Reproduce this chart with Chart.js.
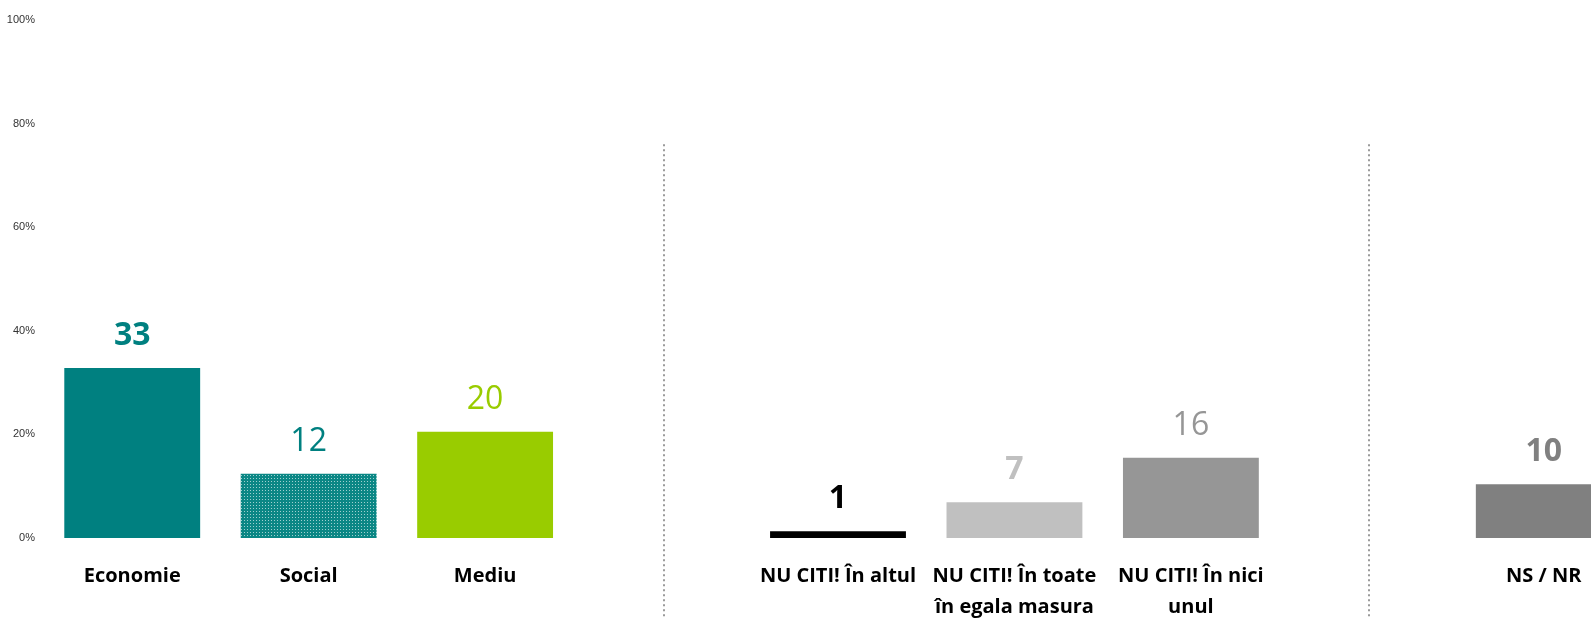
<!DOCTYPE html>
<html>
<head>
<meta charset="utf-8">
<script src="https://cdn.jsdelivr.net/npm/chart.js@4.4.0/dist/chart.umd.min.js"></script>
<style>
    html, body { margin: 0; padding: 0; background: #fff; overflow: hidden; }
    #wrap { width: 1632px; height: 618px; position: relative; }
</style>
</head>
<body>
<div id="wrap"><canvas id="chart"></canvas></div>
<script>
// categories (empty slots separate the three groups)
const categories = [
    'Economie', 'Social', 'Mediu', '',
    'NU CITI! În altul', ['NU CITI! În toate', 'în egala masura'], ['NU CITI! În nici', 'unul'], '',
    'NS / NR'
];
// bar heights (%), shown labels are rounded
const values = [32.8, 12.4, 20.5, null, 1.3, 6.9, 15.5, null, 10.4];
const shownLabels = ['33', '12', '20', '', '1', '7', '16', '', '10'];
const yTicks = [0, 20, 40, 60, 80, 100];
const separatorSlots = [3, 7];

// styles
const barColors = ['#008080', null, '#99cc00', null, '#000000', '#c0c0c0', '#969696', null, '#808080'];
const labelColors = ['#008080', '#008080', '#99cc00', null, '#000000', '#c0c0c0', '#969696', null, '#808080'];
const labelBold = [true, false, false, false, true, true, false, false, true];
const FONT = '"Open Sans", Lato, sans-serif';

function dotPattern() {
    const c = document.createElement('canvas');
    c.width = 3; c.height = 3;
    const g = c.getContext('2d');
    g.fillStyle = '#0b8785';
    g.fillRect(0, 0, 3, 3);
    g.fillStyle = '#9fd0cf';
    g.fillRect(1, 1, 1, 1);
    const ctx = document.createElement('canvas').getContext('2d');
    return ctx.createPattern(c, 'repeat');
}
barColors[1] = dotPattern();

const valueLabels = {
    id: 'valueLabels',
    afterDatasetsDraw(chart) {
        const ctx = chart.ctx;
        const meta = chart.getDatasetMeta(0);
        ctx.save();
        ctx.textAlign = 'center';
        ctx.textBaseline = 'middle';
        meta.data.forEach((bar, i) => {
            if (values[i] == null) return;
            ctx.font = (labelBold[i] ? 'bold ' : '') + '32px ' + FONT;
            ctx.fillStyle = labelColors[i];
            ctx.fillText(shownLabels[i], bar.x, bar.y - 32);
        });
        ctx.restore();
    }
};

const separators = {
    id: 'separators',
    beforeDatasetsDraw(chart) {
        const ctx = chart.ctx;
        const x = chart.scales.x, y = chart.scales.y;
        ctx.save();
        ctx.strokeStyle = '#9a9a9a';
        ctx.lineWidth = 2;
        ctx.setLineDash([2, 3]);
        separatorSlots.forEach(s => {
            const px = Math.round(x.getPixelForValue(s)) + 2;
            ctx.beginPath();
            ctx.moveTo(px, y.getPixelForValue(76));
            ctx.lineTo(px, chart.height);
            ctx.stroke();
        });
        ctx.restore();
    }
};

new Chart(document.getElementById('chart').getContext('2d'), {
    type: 'bar',
    data: {
        labels: categories,
        datasets: [{
            data: values,
            backgroundColor: barColors,
            borderWidth: 0,
            categoryPercentage: 1,
            barPercentage: 0.77
        }]
    },
    options: {
        responsive: true,
        maintainAspectRatio: false,
        animation: false,
        layout: { padding: { top: 20, left: 0, right: 0, bottom: 0 } },
        plugins: { legend: { display: false }, tooltip: { enabled: false } },
        scales: {
            x: {
                grid: { display: false },
                border: { display: false },
                ticks: {
                    color: '#000',
                    padding: 15,
                    maxRotation: 0,
                    autoSkip: false,
                    font: { family: FONT, size: 20, weight: 'bold', lineHeight: 1.55 }
                },
                afterFit(scale) { scale.height = 80; }
            },
            y: {
                min: 0,
                max: 100,
                grid: { display: false },
                border: { display: false },
                afterBuildTicks(scale) { scale.ticks = yTicks.map(v => ({ value: v })); },
                ticks: {
                    color: '#333',
                    padding: 1,
                    font: { family: 'Liberation Sans, Arial, sans-serif', size: 11 },
                    callback: v => v + '%'
                },
                afterFit(scale) { scale.width = 44; }
            }
        }
    },
    plugins: [separators, valueLabels]
});
</script>
</body>
</html>
